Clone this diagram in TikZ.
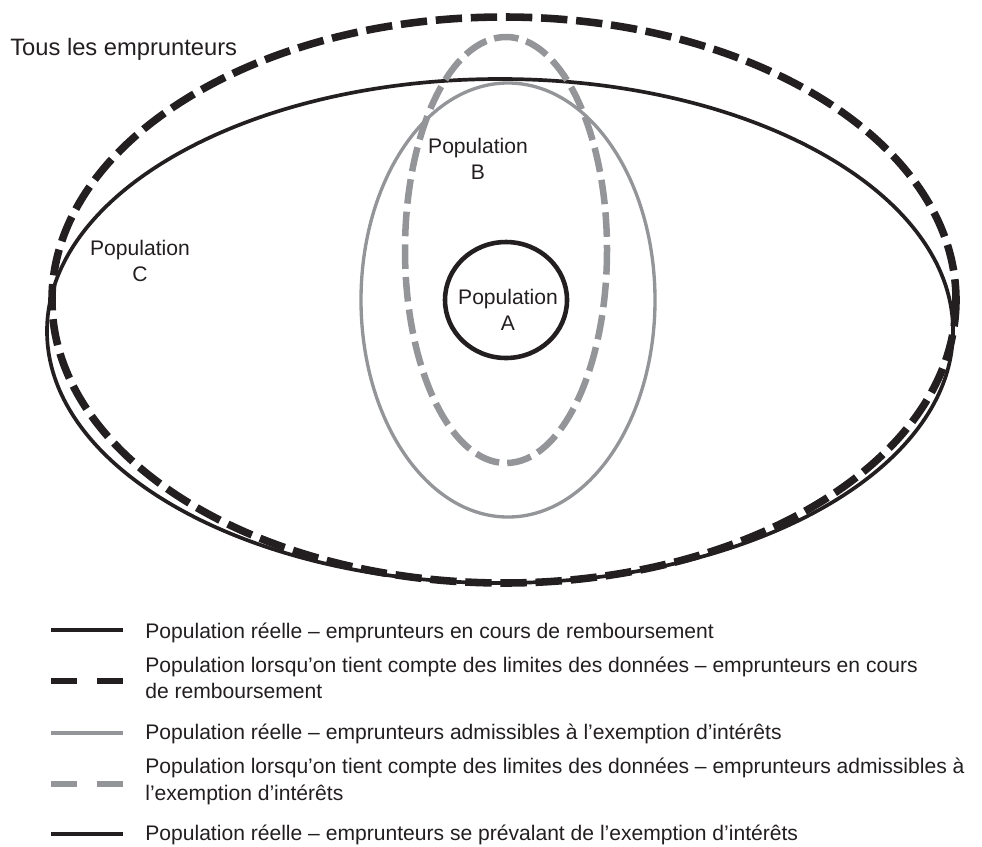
\documentclass[tikz,border=0pt]{standalone}
\usepackage{fontspec}
\setmainfont{Liberation Sans}
\definecolor{inkblack}{HTML}{231F20}
\definecolor{inkgray}{HTML}{939598}

\begin{document}
\begin{tikzpicture}[x=0.02cm, y=-0.02cm,
    poplabel/.style={font=\fontsize{12}{15}\selectfont, text=inkblack, align=center, inner sep=0pt},
    legtext/.style={font=\fontsize{12}{15}\selectfont, text=inkblack, anchor=base west, inner sep=0pt},
    realall/.style={draw=inkblack, line width=2.1pt},
    limitall/.style={draw=inkblack, line width=4.3pt, dash pattern=on 15pt off 5pt},
    realelig/.style={draw=inkgray, line width=1.9pt},
    limitelig/.style={draw=inkgray, line width=3.7pt, dash pattern=on 14pt off 4.6pt},
    realused/.style={draw=inkblack, line width=2.6pt}]

    \useasboundingbox (0,0) rectangle (982,846);

    % Outer populations
    \draw[limitall] (504,300) ellipse [x radius=452, y radius=283];
    \draw[realall] (500,331) ellipse [x radius=453, y radius=252];

    % Eligible populations
    \draw[realelig] (508,300) ellipse [x radius=147, y radius=217];
    \draw[limitelig] (506,250) ellipse [x radius=101, y radius=213];

    % Population A
    \draw[realused] (506,300) ellipse [x radius=61, y radius=58];

    % Labels
    \node[font=\fontsize{13.5}{16}\selectfont, text=inkblack, anchor=base west, inner sep=0pt] (tous) at (10,55) {Tous les emprunteurs};
    \node[poplabel] (popC) at (140,261) {Population\\C};
    \node[poplabel] (popB) at (478,159) {Population\\B};
    \node[poplabel] (popA) at (508,310) {Population\\A};

    % Legend
    \draw[realall, line width=2.3pt] (51,630) -- (123,630);
    \draw[inkblack, line width=3pt, dash pattern=on 14.7pt off 11.4pt] (51,681) -- (123,681);
    \draw[realelig, line width=2.2pt] (51,733) -- (123,733);
    \draw[inkgray, line width=3pt, dash pattern=on 14.7pt off 11.4pt] (51,784) -- (123,784);
    \draw[realused, line width=2.7pt] (51,834) -- (123,834);

    \node[legtext] (leg1) at (145,638) {Population réelle – emprunteurs en cours de remboursement};
    \node[legtext] (leg2) at (145,672) {Population lorsqu’on tient compte des limites des données – emprunteurs en cours};
    \node[legtext] (leg2b) at (145,698) {de remboursement};
    \node[legtext] (leg3) at (145,739) {Population réelle – emprunteurs admissibles à l’exemption d’intérêts};
    \node[legtext] (leg4) at (145,773) {Population lorsqu’on tient compte des limites des données – emprunteurs admissibles à};
    \node[legtext] (leg4b) at (145,800) {l’exemption d’intérêts};
    \node[legtext] (leg5) at (145,840) {Population réelle – emprunteurs se prévalant de l’exemption d’intérêts};
\end{tikzpicture}
\end{document}
